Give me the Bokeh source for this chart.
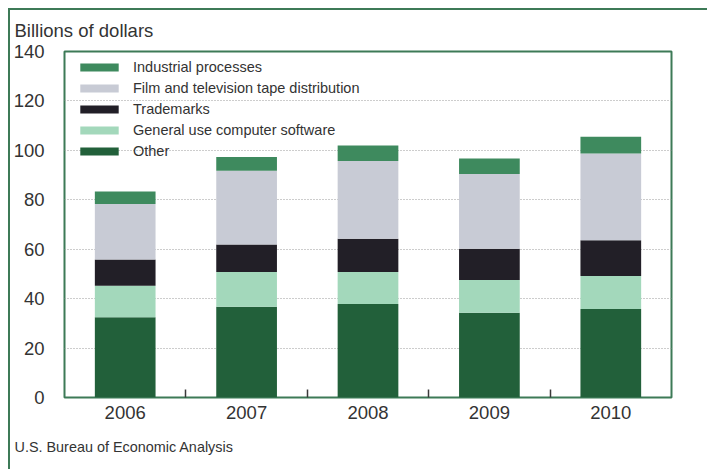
import numpy as np
from bokeh.plotting import figure
from bokeh.models import (Range1d, FixedTicker, Title, Legend, LegendItem)
from bokeh.embed import file_html
from bokeh.resources import INLINE

years = ["2006", "2007", "2008", "2009", "2010"]
other = [32.5, 36.7, 37.8, 34.3, 35.8]
software = [12.7, 14.1, 13.0, 13.2, 13.4]
trademarks = [10.6, 11.1, 13.4, 12.7, 14.4]
film = [22.5, 29.8, 31.5, 30.2, 35.1]
industrial = [5.1, 5.6, 6.3, 6.3, 6.8]

series_keys = ["other", "software", "trademarks", "film", "industrial"]
series_labels = ["Other", "General use computer software", "Trademarks",
                 "Film and television tape distribution", "Industrial processes"]
series_colors = ["#22603a", "#a3d8bb", "#221f27", "#c8cbd5", "#3e8a5e"]
y_ticks = [0, 20, 40, 60, 80, 100, 120, 140]
unit_text = "Billions of dollars"
source_text = "U.S. Bureau of Economic Analysis"

FONT = "Liberation Sans"
GREEN = "#3d7a57"
TXT = "#333333"

n = len(years)
xpos = (np.arange(n) + 0.5).tolist()   # category centres on a 0..n axis
data = dict(x=xpos, years=years, other=other, software=software,
            trademarks=trademarks, film=film, industrial=industrial)

p = figure(x_range=Range1d(0, n), y_range=Range1d(0, 140),
           width=699, height=461, output_backend="svg", toolbar_location=None,
           min_border_left=54, min_border_top=41, min_border_right=38,
           min_border_bottom=74)
p.styles = {"margin-left": "8px", "margin-top": "8px",
            "border-left": f"2px solid {GREEN}", "border-top": f"2px solid {GREEN}"}

renderers = p.vbar_stack(series_keys, x="x", width=0.5, source=data,
                         color=series_colors, line_color=None)

# legend (top item first)
items = [LegendItem(label=lab, renderers=[r])
         for lab, r in zip(series_labels[::-1], renderers[::-1])]
legend = Legend(items=items, location=(11, 237), border_line_color=None,
                background_fill_alpha=0, glyph_width=48, glyph_height=10,
                label_height=18, spacing=3, padding=0, margin=0,
                label_standoff=10, label_text_font_size="14.5px",
                label_text_font=FONT, label_text_color=TXT)
p.add_layout(legend)

p.outline_line_color = GREEN
p.outline_line_width = 2
p.background_fill_color = "white"
p.border_fill_color = "white"

p.xgrid.grid_line_color = None
p.ygrid.grid_line_color = "#9a9a9a"
p.ygrid.grid_line_dash = "1 2"
p.ygrid.grid_line_width = 1
p.ygrid.ticker = FixedTicker(ticks=y_ticks[1:-1])

p.yaxis.ticker = FixedTicker(ticks=y_ticks)
p.yaxis.axis_line_color = None
p.yaxis.major_tick_line_color = None
p.yaxis.major_tick_out = 0
p.yaxis.major_tick_in = 0
p.yaxis.minor_tick_line_color = None
p.yaxis.minor_tick_out = 0
p.yaxis.minor_tick_in = 0
p.yaxis.major_label_standoff = 20
p.yaxis.major_label_text_font = FONT
p.yaxis.major_label_text_font_size = "18.5px"
p.yaxis.major_label_text_color = TXT

p.xaxis.ticker = FixedTicker(ticks=xpos, minor_ticks=list(range(1, n)))
p.xaxis.major_label_overrides = {xv: yr for xv, yr in zip(xpos, years)}
p.xaxis.axis_line_color = None
p.xaxis.major_tick_line_color = None
p.xaxis.minor_tick_in = 8
p.xaxis.minor_tick_out = 0
p.xaxis.minor_tick_line_color = "#3a3a3a"
p.xaxis.minor_tick_line_width = 1.5
p.xaxis.major_label_standoff = 2
p.xaxis.major_label_text_font = FONT
p.xaxis.major_label_text_font_size = "18.5px"
p.xaxis.major_label_text_color = TXT

p.title = Title(text=unit_text, align="left", offset=-50, standoff=17,
                vertical_align="top", text_font=FONT, text_font_size="18.5px",
                text_font_style="normal", text_color=TXT)
p.add_layout(Title(text=source_text, align="left", offset=-50, standoff=31,
                   text_font=FONT, text_font_size="14.4px",
                   text_font_style="normal", text_color=TXT), "below")

open("out.html", "w").write(file_html(p, INLINE))
